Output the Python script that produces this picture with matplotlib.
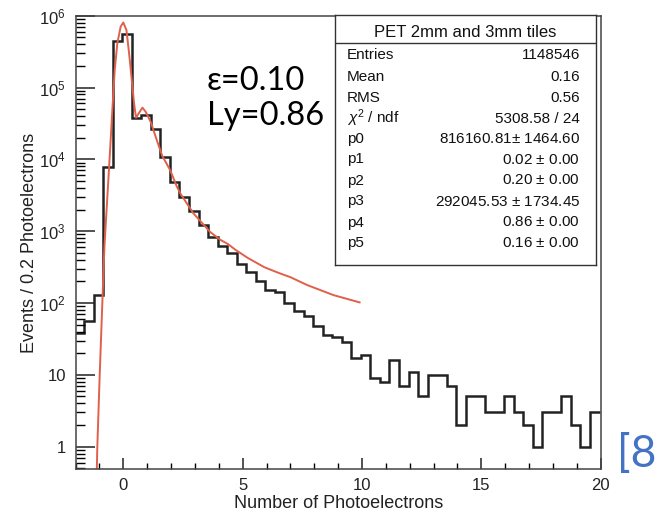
import numpy as np
import matplotlib.pyplot as plt
from matplotlib.ticker import FixedLocator, MultipleLocator, FuncFormatter, NullFormatter

plt.rcParams['font.family'] = ['Liberation Sans', 'DejaVu Sans']
plt.rcParams['mathtext.fontset'] = 'custom'
plt.rcParams['mathtext.rm'] = 'Liberation Sans'
plt.rcParams['mathtext.it'] = 'Liberation Sans:italic'

# histogram: 0.4 wide bins starting at -2.05
bin_lo = -2.05
bin_width = 0.4
counts = [38, 56, 130, 7950, 450000, 553000, 37500, 41700, 26300, 10950,
          4900, 3000, 1910, 1230, 830, 617, 490, 348, 273, 205,
          152, 142, 101, 77, 67, 48, 36, 34, 29, 17,
          19, 9, 8, 16, 7, 11, 5, 10, 10, 7,
          2, 5, 5, 3, 3, 5, 3, 2, 1, 3,
          3, 5, 2, 1, 3]

# fit curve
fit_x = [-1.11, -1.09, -0.99, -0.88, -0.79, -0.67, -0.57, -0.46, -0.36, -0.25,
         -0.11, 0.0, 0.13, 0.24, 0.34, 0.45, 0.53, 0.65, 0.80, 0.94,
         1.15, 1.42, 1.63, 1.96, 2.24, 2.40, 2.79, 2.93, 3.63, 4.06,
         4.39, 4.70, 5.20, 5.90, 6.50, 7.00, 7.70, 8.80, 9.90]
fit_y = [0.5, 1, 10, 100, 630, 3000, 11000, 49000, 178000, 417000,
         708000, 804000, 631000, 302000, 141000, 60000, 38000, 44000, 52500, 45700,
         33000, 17800, 11200, 7100, 4200, 3300, 2100, 1780, 980, 760,
         660, 550, 427, 316, 263, 229, 178, 129, 102]

stat_title = "PET 2mm and 3mm tiles"
stat_names = ["Entries", "Mean", "RMS", r"$\it{\chi}^{2}$ / ndf", "p0", "p1", "p2", "p3", "p4", "p5"]
stat_values = ["1148546", "0.16", "0.56", "5308.58 / 24",
               "816160.81$\\pm$ 1464.60", "0.02 $\\pm$ 0.00", "0.20 $\\pm$ 0.00",
               "292045.53 $\\pm$ 1734.45", "0.86 $\\pm$ 0.00", "0.16 $\\pm$ 0.00"]

W, H = 656, 512
fig = plt.figure(figsize=(W / 100, H / 100), dpi=100)
ax = fig.add_axes([75.6 / W, 1 - 469.3 / H, (600.7 - 75.6) / W, (469.3 - 15.7) / H])

edges = bin_lo + bin_width * np.arange(len(counts) + 1)
ax.stairs(counts, edges, baseline=None, color='#222222', lw=1.8)
ax.plot(fit_x, fit_y, color='#e0604a', lw=1.4)

ax.set_yscale('log')
ax.set_xlim(-2, 20)
ax.set_ylim(10 ** -0.315, 1e6)

ax.xaxis.set_major_locator(MultipleLocator(5))
ax.xaxis.set_minor_locator(MultipleLocator(1))
ax.yaxis.set_major_locator(FixedLocator([10 ** k for k in range(7)]))
ax.yaxis.set_minor_locator(FixedLocator([m * 10 ** k for k in range(-1, 6) for m in range(2, 10)]))
ax.yaxis.set_minor_formatter(NullFormatter())


def ylab(v, pos):
    k = int(round(np.log10(v)))
    if k == 0:
        return "1"
    if k == 1:
        return "10"
    return r"$10^{%d}$" % k


ax.yaxis.set_major_formatter(FuncFormatter(ylab))

ax.tick_params(axis='x', which='major', direction='in', length=8, width=1.1, pad=6,
               labelsize=12, colors='#222222', top=False)
ax.tick_params(axis='x', which='minor', direction='in', length=4, width=1.0, top=False)
ax.tick_params(axis='y', which='major', direction='in', length=14, width=1.1, pad=7,
               labelsize=12, colors='#222222', right=False)
ax.tick_params(axis='y', which='minor', direction='in', length=6.5, width=1.0, right=False)
for s in ax.spines.values():
    s.set_color('#444444')
    s.set_linewidth(1.1)

ax.set_xlabel("Number of Photoelectrons", fontsize=13, color='#222222', labelpad=2)
ax.set_ylabel("Events / 0.2 Photoelectrons", fontsize=13, color='#222222', labelpad=1)

# stats box
bx0, by0, bx1, by1 = 335, 15, 596, 265
box = fig.add_axes([bx0 / W, 1 - by1 / H, (bx1 - bx0) / W, (by1 - by0) / H])
box.set_xticks([])
box.set_yticks([])
for s in box.spines.values():
    s.set_color('#333333')
    s.set_linewidth(1.0)
box.axhline(1 - (43.3 - by0) / (by1 - by0), color='#333333', lw=1.0)
fig.text((bx0 + bx1) / 2 / W, 1 - 37 / H, stat_title, ha='center', va='baseline',
         fontsize=12, color='#111111')
row_y = [54, 76, 97, 118, 138, 158.5, 179.5, 200.5, 221.5, 242]
for name, val, yc in zip(stat_names, stat_values, row_y):
    fig.text(347 / W, 1 - (yc + 5) / H, name, ha='left', va='baseline', fontsize=11, color='#111111')
    fig.text(580 / W, 1 - (yc + 5) / H, val, ha='right', va='baseline', fontsize=11, color='#111111')

fig.text(207 / W, 1 - 90 / H, "ε=0.10", fontsize=23.5, family=['Lato', 'DejaVu Sans'], va='baseline', color='black')
fig.text(207 / W, 1 - 125 / H, "Ly=0.86", fontsize=23.5, family=['Lato', 'DejaVu Sans'], va='baseline', color='black')
fig.text(617 / W, 1 - 467 / H, "[8", fontsize=32, family=['Lato', 'DejaVu Sans'], va='baseline', color='#4472c4')

fig.savefig("out.png", dpi=100)
